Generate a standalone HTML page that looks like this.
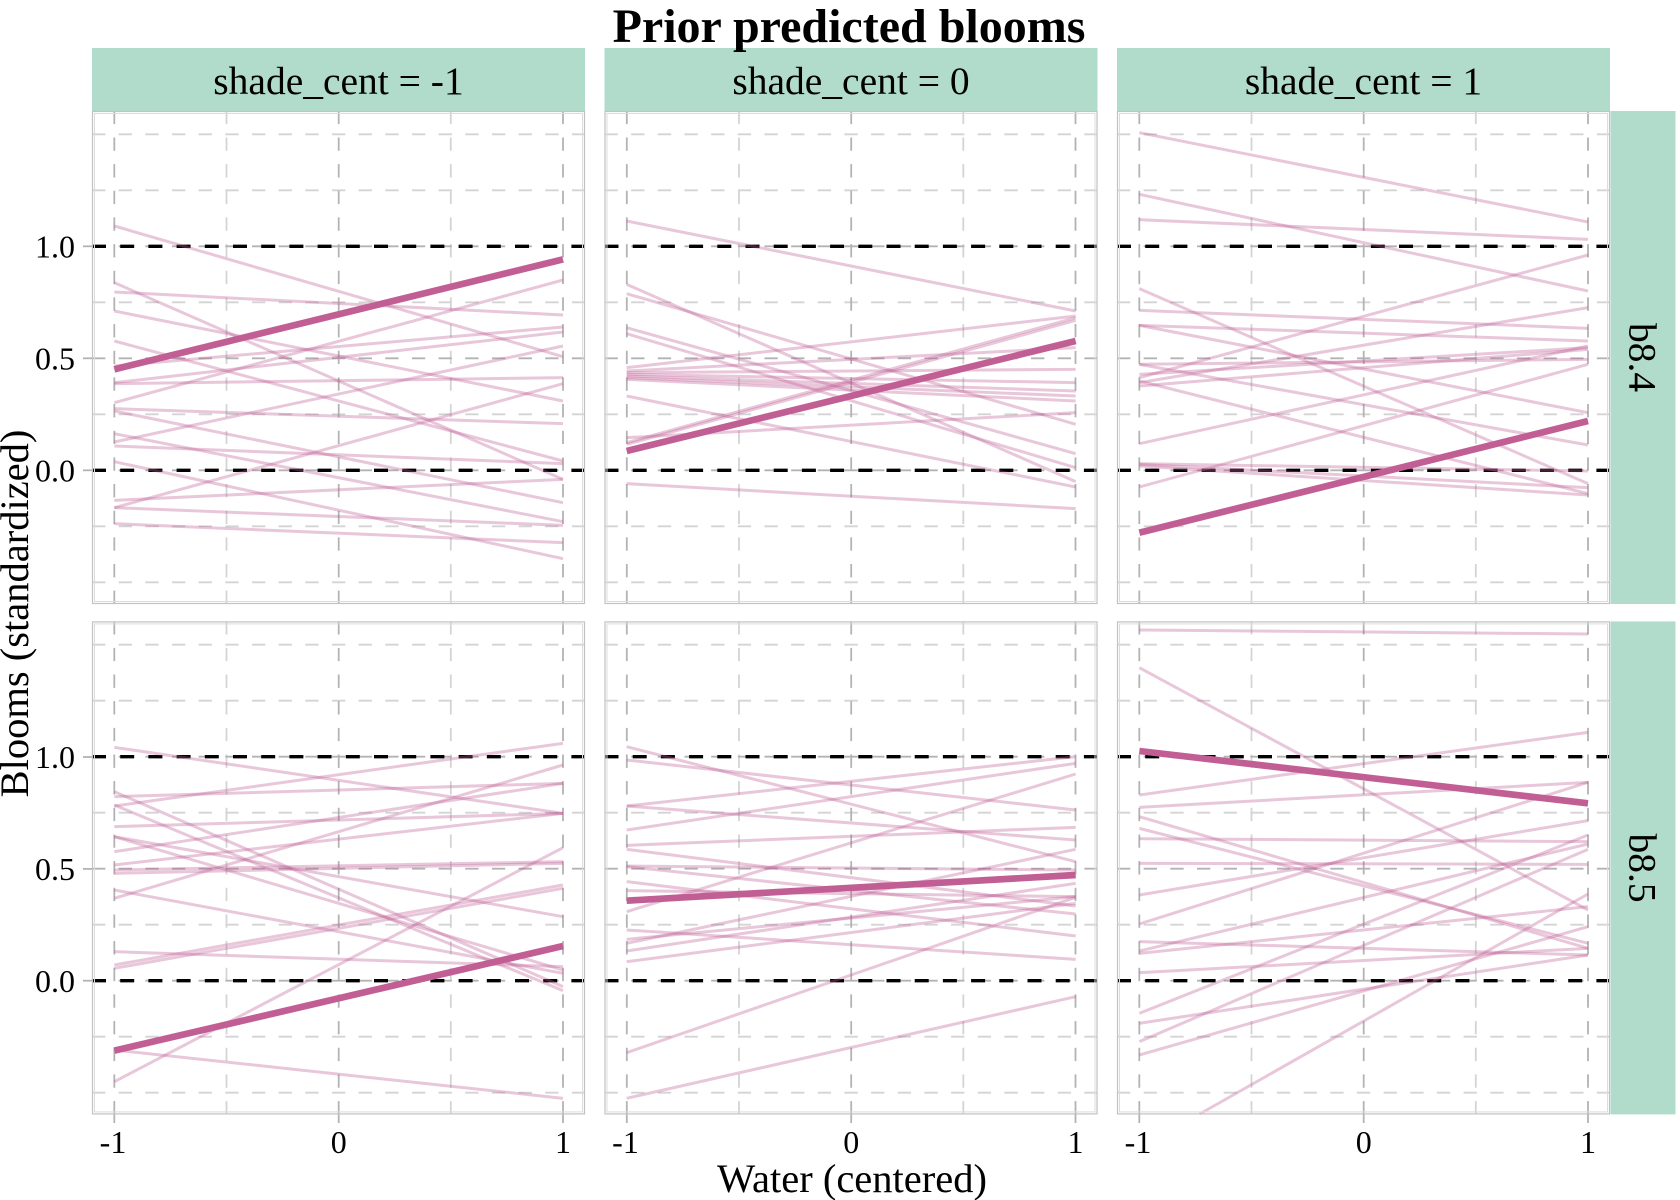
<!DOCTYPE html>
<html>
<head>
<meta charset="utf-8">
<style>
  html,body{margin:0;padding:0;background:#fff;}
  svg{display:block;}
  text{font-family:"Liberation Serif","DejaVu Serif",serif;fill:#000;}
</style>
</head>
<body>
<svg width="1680" height="1200" viewBox="0 0 1680 1200" xmlns="http://www.w3.org/2000/svg">
  <rect x="0" y="0" width="1680" height="1200" fill="#fff"/>
  <defs>
    <g id="grid">
      <rect x="0" y="0" width="493" height="493" fill="#fff"/>
      <g stroke="#d4d4d4" stroke-width="1.8" stroke-dasharray="13.33 13.33" fill="none">
        <path d="M0 23.3H493"/><path d="M0 79.3H493"/><path d="M0 191.3H493"/>
        <path d="M0 303.3H493"/><path d="M0 415.3H493"/><path d="M0 471.3H493"/>
        <path d="M134.5 493V0"/><path d="M358.8 493V0"/>
      </g>
      <g stroke="#b3b3b3" stroke-width="1.8" stroke-dasharray="13.33 13.33" fill="none">
        <path d="M0 135.3H493"/><path d="M0 247.3H493"/><path d="M0 359.3H493"/>
        <path d="M22.3 493V0"/><path d="M246.7 493V0"/><path d="M471 493V0"/>
      </g>
      <g stroke="#000" stroke-width="3.4" stroke-dasharray="14 14.2" fill="none">
        <path d="M0 135.3H493"/><path d="M0 359.3H493"/>
      </g>
    </g>
    <g id="border" fill="none">
      <rect x="0.5" y="0.5" width="492" height="492" stroke="#c2c2c2" stroke-width="1.2"/>
      <rect x="2.5" y="2.5" width="488" height="488" stroke="#dcdcdc" stroke-width="1"/>
    </g>
  </defs>

  <!-- Top strips -->
  <rect x="92" y="48" width="493" height="63" fill="#b1dbcb"/>
  <rect x="604.5" y="48" width="493" height="63" fill="#b1dbcb"/>
  <rect x="1117" y="48" width="493" height="63" fill="#b1dbcb"/>
  <text x="338.5" y="94" font-size="39.5" text-anchor="middle">shade_cent = -1</text>
  <text x="851" y="94" font-size="39.5" text-anchor="middle">shade_cent = 0</text>
  <text x="1363.5" y="94" font-size="39.5" text-anchor="middle">shade_cent = 1</text>

  <!-- Right strips -->
  <rect x="1610.5" y="111" width="65" height="493" fill="#b1dbcb"/>
  <rect x="1610.5" y="621.4" width="65" height="493" fill="#b1dbcb"/>
  <text transform="translate(1629.5,357.5) rotate(90)" font-size="39.5" text-anchor="middle">b8.4</text>
  <text transform="translate(1629.5,868) rotate(90)" font-size="39.5" text-anchor="middle">b8.5</text>

  <!-- Title (drawn over strips) -->
  <text x="849" y="42" font-size="48" font-weight="bold" text-anchor="middle">Prior predicted blooms</text>

  <!-- Panel grids -->
  <use href="#grid" transform="translate(92,111)"/>
  <use href="#grid" transform="translate(604.5,111)"/>
  <use href="#grid" transform="translate(1117,111)"/>
  <use href="#grid" transform="translate(92,621.4)"/>
  <use href="#grid" transform="translate(604.5,621.4)"/>
  <use href="#grid" transform="translate(1117,621.4)"/>

  <!-- Panel 1,1 -->
  <g transform="translate(92,111) scale(0.333333)" fill="none" stroke="#c15f95" stroke-opacity="0.35" stroke-width="9">
    <path d="M67 345L1413 737"/><path d="M67 515L1413 1105"/><path d="M67 543L1413 612"/>
    <path d="M67 600L1413 870"/><path d="M67 690L1413 1050"/><path d="M67 765L1413 648"/>
    <path d="M67 815L1413 663"/><path d="M67 818L1413 800"/><path d="M67 875L1413 507"/>
    <path d="M67 993L1413 705"/><path d="M67 1190L1413 818"/><path d="M67 1168L1413 1105"/>
    <path d="M67 893L1413 938"/><path d="M67 900L1413 1175"/><path d="M67 968L1413 1232"/>
    <path d="M67 1005L1413 1058"/><path d="M67 1052L1413 1343"/><path d="M67 1190L1413 1243"/>
    <path d="M67 1238L1413 1295"/>
    <path d="M67 775L1413 445" stroke-opacity="1" stroke-width="20"/>
  </g>

  <!-- Panel 1,2 -->
  <g transform="translate(600,111) scale(0.333333)" fill="none" stroke="#c15f95" stroke-opacity="0.35" stroke-width="9">
    <path d="M80 330L1427 600"/><path d="M80 520L1427 1112"/><path d="M80 548L1427 940"/>
    <path d="M80 650L1427 1028"/><path d="M80 668L1427 1070"/><path d="M80 855L1427 1128"/>
    <path d="M80 1118L1427 1193"/><path d="M80 995L1427 620"/><path d="M80 1000L1427 628"/>
    <path d="M80 980L1427 905"/><path d="M80 770L1427 615"/><path d="M80 780L1427 710"/>
    <path d="M80 785L1427 775"/><path d="M80 790L1427 815"/><path d="M80 795L1427 840"/>
    <path d="M80 800L1427 855"/><path d="M80 805L1427 870"/>
    <path d="M80 1020L1427 690" stroke-opacity="1" stroke-width="20"/>
  </g>

  <!-- Panel 1,3 -->
  <g transform="translate(1112,111) scale(0.333333)" fill="none" stroke="#c15f95" stroke-opacity="0.35" stroke-width="9">
    <path d="M82 65L1428 333"/><path d="M82 250L1428 540"/><path d="M82 326L1428 385"/>
    <path d="M82 800L1428 432"/><path d="M82 815L1428 590"/><path d="M82 598L1428 652"/>
    <path d="M82 643L1428 690"/><path d="M82 790L1428 710"/><path d="M82 825L1428 715"/>
    <path d="M82 998L1428 705"/><path d="M82 760L1428 745"/><path d="M82 1128L1428 760"/>
    <path d="M82 643L1428 905"/><path d="M82 760L1428 1002"/><path d="M82 533L1428 1118"/>
    <path d="M82 810L1428 1148"/><path d="M82 1060L1428 1130"/><path d="M82 1065L1428 1152"/>
    <path d="M82 1058L1428 1080"/>
    <path d="M82 1265L1428 930" stroke-opacity="1" stroke-width="20"/>
  </g>

  <!-- Panel 2,1 -->
  <g transform="translate(92,620) scale(0.333333)" fill="none" stroke="#c15f95" stroke-opacity="0.35" stroke-width="9">
    <path d="M67 382L1413 580"/><path d="M67 530L1413 490"/><path d="M67 558L1413 370"/>
    <path d="M67 620L1413 580"/><path d="M67 695L1413 490"/><path d="M67 735L1413 580"/>
    <path d="M67 750L1413 725"/><path d="M67 760L1413 730"/><path d="M67 835L1413 435"/>
    <path d="M67 995L1413 1040"/><path d="M67 1035L1413 795"/><path d="M67 1045L1413 805"/>
    <path d="M67 1385L1413 683"/><path d="M67 1290L1413 1435"/><path d="M67 650L1413 890"/>
    <path d="M67 515L1413 1100"/><path d="M67 555L1413 1112"/><path d="M67 650L1413 1050"/>
    <path d="M67 810L1413 1060"/>
    <path d="M67 1292L1413 978" stroke-opacity="1" stroke-width="20"/>
  </g>

  <!-- Panel 2,2 -->
  <g transform="translate(600,620) scale(0.333333)" fill="none" stroke="#c15f95" stroke-opacity="0.35" stroke-width="9">
    <path d="M80 380L1427 725"/><path d="M80 420L1427 570"/><path d="M80 558L1427 410"/>
    <path d="M80 558L1427 660"/><path d="M80 630L1427 430"/><path d="M80 676L1427 622"/>
    <path d="M80 688L1427 858"/><path d="M80 738L1427 750"/><path d="M80 740L1427 882"/>
    <path d="M80 785L1427 948"/><path d="M80 812L1427 830"/><path d="M80 875L1427 462"/>
    <path d="M80 930L1427 1018"/><path d="M80 958L1427 830"/><path d="M80 970L1427 688"/>
    <path d="M80 993L1427 790"/><path d="M80 1025L1427 850"/><path d="M80 1298L1427 832"/>
    <path d="M80 1435L1427 1130"/>
    <path d="M80 842L1427 765" stroke-opacity="1" stroke-width="20"/>
  </g>

  <!-- Panel 2,3 -->
  <g transform="translate(1112,620) scale(0.333333)" fill="none" stroke="#c15f95" stroke-opacity="0.35" stroke-width="9">
    <path d="M82 30L1428 42"/><path d="M82 143L1428 870"/><path d="M82 525L1428 337"/>
    <path d="M82 562L1428 487"/><path d="M82 590L1428 985"/><path d="M82 625L1428 970"/>
    <path d="M82 656L1428 665"/><path d="M82 730L1428 733"/><path d="M82 825L1428 602"/>
    <path d="M82 912L1428 487"/><path d="M82 965L1428 1005"/><path d="M82 993L1428 672"/>
    <path d="M82 1000L1428 860"/><path d="M82 1058L1428 985"/><path d="M82 1180L1428 645"/>
    <path d="M82 1210L1428 1005"/><path d="M82 1265L1428 688"/><path d="M82 1305L1428 920"/>
    <path d="M263 1482L1428 822"/>
    <path d="M82 393L1428 550" stroke-opacity="1" stroke-width="20"/>
  </g>

  <!-- Panel borders -->
  <use href="#border" transform="translate(92,111)"/>
  <use href="#border" transform="translate(604.5,111)"/>
  <use href="#border" transform="translate(1117,111)"/>
  <use href="#border" transform="translate(92,621.4)"/>
  <use href="#border" transform="translate(604.5,621.4)"/>
  <use href="#border" transform="translate(1117,621.4)"/>

  <!-- Y ticks -->
  <g stroke="#b3b3b3" stroke-width="1.8">
    <path d="M83 246.3H92"/><path d="M83 358.3H92"/><path d="M83 470.3H92"/>
    <path d="M83 757H92"/><path d="M83 868.9H92"/><path d="M83 980.7H92"/>
  </g>
  <g font-size="32" text-anchor="end">
    <text x="75" y="257.5">1.0</text>
    <text x="75" y="369.5">0.5</text>
    <text x="75" y="481.5">0.0</text>
    <text x="75" y="768">1.0</text>
    <text x="75" y="880">0.5</text>
    <text x="75" y="992">0.0</text>
  </g>

  <!-- X ticks -->
  <g stroke="#b3b3b3" stroke-width="1.8">
    <path d="M114.3 1114.4V1123"/><path d="M338.7 1114.4V1123"/><path d="M563 1114.4V1123"/>
    <path d="M626.8 1114.4V1123"/><path d="M851.2 1114.4V1123"/><path d="M1075.5 1114.4V1123"/>
    <path d="M1139.3 1114.4V1123"/><path d="M1363.7 1114.4V1123"/><path d="M1588 1114.4V1123"/>
  </g>
  <g font-size="32" text-anchor="middle">
    <text x="113" y="1153">-1</text>
    <text x="338.7" y="1153">0</text>
    <text x="563" y="1153">1</text>
    <text x="625.5" y="1153">-1</text>
    <text x="851.2" y="1153">0</text>
    <text x="1075.5" y="1153">1</text>
    <text x="1138" y="1153">-1</text>
    <text x="1363.7" y="1153">0</text>
    <text x="1588" y="1153">1</text>
  </g>

  <!-- Axis titles -->
  <text x="852" y="1192" font-size="40.5" text-anchor="middle">Water (centered)</text>
  <text transform="translate(28,613.5) rotate(-90)" font-size="40.5" text-anchor="middle">Blooms (standardized)</text>
</svg>
</body>
</html>
